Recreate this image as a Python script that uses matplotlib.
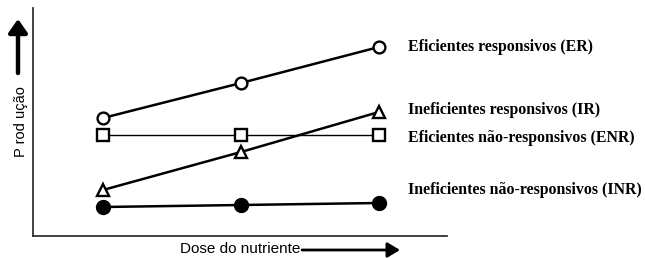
import matplotlib
matplotlib.use("Agg")
import matplotlib.pyplot as plt

doses = [1, 2, 3]
er = [118, 153, 189]
ir = [46, 84, 124]
enr = [101, 101, 101]
inr = [29, 31, 33]
labels = ["Eficientes responsivos (ER)", "Ineficientes responsivos (IR)",
          "Eficientes não-responsivos (ENR)", "Ineficientes não-responsivos (INR)"]

W, H = 645, 258
fig = plt.figure(figsize=(W / 100, H / 100), dpi=100)
ax = fig.add_axes([33 / W, 22 / H, (447 - 33) / W, (236 - 8) / H])
ax.set_xlim(0.493, 3.493)
ax.set_ylim(0, 228)
for s in ["top", "right"]:
    ax.spines[s].set_visible(False)
for s in ["left", "bottom"]:
    ax.spines[s].set_linewidth(1.3)
    ax.spines[s].set_color("#333333")
ax.set_xticks([])
ax.set_yticks([])

ax.plot(doses, er, color="black", lw=1.8, marker="o", ms=8.5, mfc="white", mec="black", mew=1.7, zorder=3)
ax.plot(doses, enr, color="black", lw=1.0, marker="s", ms=8.5, mfc="white", mec="black", mew=1.7, zorder=3)
ax.plot(doses, ir, color="black", lw=1.8, marker="^", ms=8.5, mfc="white", mec="black", mew=1.7, zorder=3)
ax.plot(doses, inr, color="black", lw=1.8, marker="o", ms=10, mfc="black", mec="black", zorder=3)

label_y = [er[-1], ir[-1] + 2, enr[-1] - 3, inr[-1] + 13]
for lab, yv in zip(labels, label_y):
    ax.text(3.21, yv, lab, fontsize=11.4, fontweight="bold", family="Liberation Serif",
            ha="left", va="center", clip_on=False)

# y-axis label and arrow
fig.text(21 / W, 1 - 122 / H, "P rod ução", rotation=90, fontsize=10.5,
         family="Liberation Sans", ha="center", va="center")
fig.add_artist(matplotlib.patches.FancyArrowPatch(
    (18 / W, 1 - 73 / H), (18 / W, 1 - 19 / H), transform=fig.transFigure,
    arrowstyle="-|>,head_length=5,head_width=3.5", lw=3.2, color="black",
    mutation_scale=1.6, shrinkA=0, shrinkB=0))

# x-axis label and arrow
fig.text(180 / W, 1 - 249 / H, "Dose do nutriente", fontsize=11,
         family="Liberation Sans", ha="left", va="center")
fig.add_artist(matplotlib.patches.FancyArrowPatch(
    (302 / W, 1 - 250 / H), (400 / W, 1 - 250 / H), transform=fig.transFigure,
    arrowstyle="-|>,head_length=5,head_width=3", lw=2.0, color="black",
    mutation_scale=1.5, shrinkA=0, shrinkB=0))

fig.savefig("out.png", dpi=100)
